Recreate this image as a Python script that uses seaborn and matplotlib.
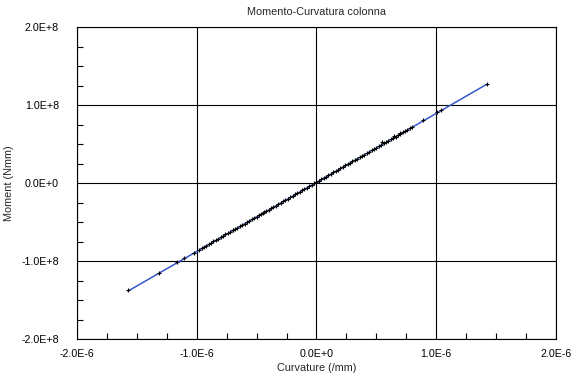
import numpy as np
import pandas as pd
import matplotlib
matplotlib.use("Agg")
import matplotlib.pyplot as plt
import seaborn as sns
from matplotlib.ticker import FuncFormatter, MultipleLocator

# dati (curvatura in 1E-6 /mm, momento in 1E+8 Nmm)
curvature = [-1.574, -1.315, -1.162, -1.106, -1.023,
             -0.98, -0.96, -0.94, -0.92, -0.90, -0.88, -0.86, -0.84, -0.82, -0.80,
             -0.78, -0.76, -0.74, -0.72, -0.70, -0.68, -0.66, -0.64, -0.62, -0.60,
             -0.58, -0.56, -0.54, -0.52, -0.50, -0.48, -0.46, -0.44, -0.42, -0.40,
             -0.38, -0.36, -0.34, -0.32, -0.30, -0.28, -0.26, -0.24, -0.22, -0.20,
             -0.18, -0.16, -0.14, -0.12, -0.10, -0.08, -0.06, -0.04, -0.02, 0.00,
             0.02, 0.04, 0.06, 0.08, 0.10, 0.12, 0.14, 0.16, 0.18, 0.20,
             0.22, 0.24, 0.26, 0.28, 0.30, 0.32, 0.34, 0.36, 0.38, 0.40,
             0.42, 0.44, 0.46, 0.48, 0.50, 0.52, 0.54, 0.56, 0.58, 0.60,
             0.62, 0.64, 0.66, 0.68, 0.70, 0.72, 0.74, 0.76, 0.78, 0.80,
             -0.70, -0.45, 0.55, 0.65, 0.70,
             0.892, 1.009, 1.042, 1.421]
moment = [-1.374, -1.150, -1.014, -0.954, -0.895,
          -0.853, -0.836, -0.818, -0.800, -0.782, -0.765, -0.747, -0.729, -0.712, -0.694,
          -0.676, -0.658, -0.641, -0.623, -0.605, -0.587, -0.570, -0.552, -0.534, -0.517,
          -0.499, -0.481, -0.463, -0.446, -0.428, -0.410, -0.393, -0.375, -0.357, -0.339,
          -0.322, -0.304, -0.286, -0.269, -0.251, -0.233, -0.215, -0.198, -0.180, -0.162,
          -0.144, -0.127, -0.109, -0.091, -0.074, -0.056, -0.038, -0.020, -0.003, 0.015,
          0.033, 0.050, 0.068, 0.086, 0.104, 0.121, 0.139, 0.157, 0.174, 0.192,
          0.210, 0.228, 0.245, 0.263, 0.281, 0.299, 0.316, 0.334, 0.352, 0.369,
          0.387, 0.405, 0.423, 0.440, 0.458, 0.476, 0.493, 0.511, 0.529, 0.547,
          0.564, 0.582, 0.600, 0.617, 0.635, 0.653, 0.671, 0.688, 0.706, 0.724,
          -0.595, -0.378, 0.525, 0.612, 0.650,
          0.818, 0.920, 0.946, 1.280]

# retta blu
fit_curvature = [-1.574, 1.421]
fit_moment = [-1.385, 1.270]

x_ticks = [-2.0e-6, -1.0e-6, 0.0, 1.0e-6, 2.0e-6]
y_ticks = [-2.0e8, -1.0e8, 0.0, 1.0e8, 2.0e8]

df = pd.DataFrame({"Curvature": np.array(curvature) * 1e-6, "Moment": np.array(moment) * 1e8})
df_fit = pd.DataFrame({"Curvature": np.array(fit_curvature) * 1e-6, "Moment": np.array(fit_moment) * 1e8})

sns.set_style("white")
plt.rcParams["font.family"] = ["Liberation Sans", "DejaVu Sans"]
plt.rcParams["font.size"] = 7.5

fig = plt.figure(figsize=(5.84, 3.83), dpi=100)
ax = fig.add_axes([0.1318, 0.1149, 0.8202, 0.8133])

sns.lineplot(data=df_fit, x="Curvature", y="Moment", ax=ax, color="#3557c8", linewidth=1.1,
             estimator=None, sort=False, zorder=3)
ax.plot(df["Curvature"], df["Moment"], linestyle="none", marker="+", markersize=3.0,
        markeredgewidth=0.8, color="black", zorder=4)

ax.set_xlim(-2.0e-6, 2.0e-6)
ax.set_ylim(-2.0e8, 2.0e8)
ax.set_xticks(x_ticks)
ax.set_yticks(y_ticks)


def sci_fmt(v, pos):
    if v == 0:
        return "0.0E+0"
    exp = int(np.floor(np.log10(abs(v))))
    mant = v / 10 ** exp
    sign = "+" if exp > 0 else "-"
    return f"{mant:.1f}E{sign}{abs(exp)}"


ax.xaxis.set_major_formatter(FuncFormatter(sci_fmt))
ax.yaxis.set_major_formatter(FuncFormatter(sci_fmt))
ax.xaxis.set_minor_locator(MultipleLocator(0.25e-6))
ax.yaxis.set_minor_locator(MultipleLocator(0.25e8))

ax.grid(True, which="major", color="black", linewidth=0.8)
ax.tick_params(which="major", length=0, labelsize=7.7, colors="black")
ax.tick_params(axis="x", which="major", pad=7)
ax.tick_params(axis="y", which="major", pad=13)
ax.tick_params(which="minor", direction="in", length=4, width=0.8, color="black",
               bottom=True, left=True, top=False, right=False)
for s in ax.spines.values():
    s.set_color("black")
    s.set_linewidth(0.8)

ax.set_title("Momento-Curvatura colonna", fontsize=7.8, pad=9)
ax.set_xlabel("Curvature (/mm)", fontsize=7.8, labelpad=3)
ax.set_ylabel("Moment (Nmm)", fontsize=7.8, labelpad=5)

fig.savefig("out.png", dpi=100, facecolor="white")
